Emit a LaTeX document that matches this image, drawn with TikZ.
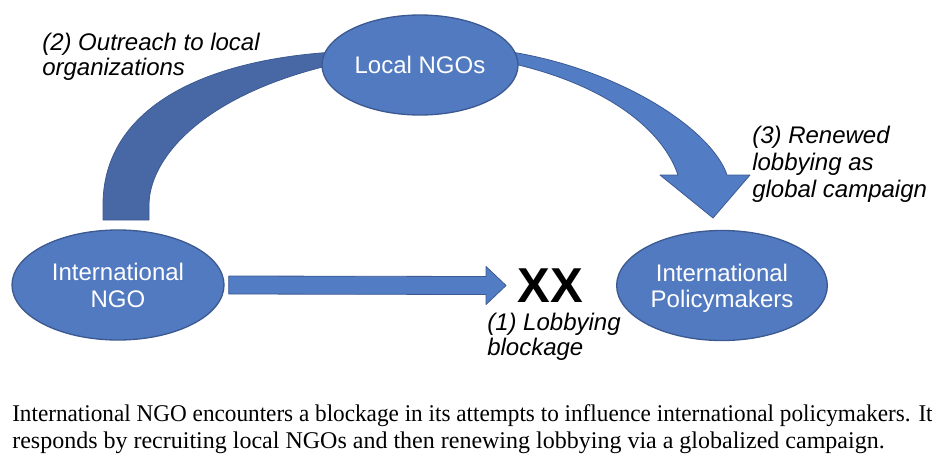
\documentclass[tikz,border=0pt]{standalone}
\usepackage{fontspec}
\setmainfont{Liberation Serif}
\newfontfamily\arial{Liberation Sans}
\usetikzlibrary{calc,shapes.geometric}
\pgfdeclarelayer{background}
\pgfsetlayers{background,main}
\definecolor{ellfill}{RGB}{82,122,192}
\definecolor{ellline}{RGB}{60,90,145}
\definecolor{bandA}{RGB}{72,104,165}
\definecolor{bandB}{RGB}{82,124,196}
\begin{document}
\begin{tikzpicture}[x=0.75pt,y=-0.75pt,
  ell/.style={ellipse, fill=ellfill, draw=ellline, line width=1pt, text=white,
    inner sep=0pt, align=center, text depth=0pt, font=\arial\fontsize{18}{20.25}\selectfont},
  lab/.style={anchor=north west, inner sep=0pt, align=left,
    font=\arial\itshape\fontsize{18}{18.75}\selectfont},
  band/.style={draw=ellline, line width=0.6pt, line join=round}]
\useasboundingbox (0,0) rectangle (932,457);
\clip (0,0) rectangle (932,457);

\node[ell, minimum width=159pt, minimum height=82.5pt] (ingo) at (118,285) {International\\NGO};
\node[ell, minimum width=147pt, minimum height=75pt] (local) at (420,65) {Local NGOs};
\node[ell, minimum width=158pt, minimum height=82.5pt, font=\arial\fontsize{18}{19.5}\selectfont] (ipol) at (722,285.5) {International\\Policymakers};

\node[inner sep=0pt, font=\arial\bfseries\fontsize{36.75}{40}\selectfont] (xx) at (550,285.5) {XX};

% (1) straight arrow
\draw[band, fill=bandB]
  ([shift={(4,-9)}]ingo.east) -- ([shift={(-31,-9)}]xx.west)
  -- ([shift={(-31,-19)}]xx.west) -- ([shift={(-11,0)}]xx.west)
  -- ([shift={(-31,19)}]xx.west) -- ([shift={(-31,9)}]xx.west)
  -- ([shift={(4,9)}]ingo.east) -- cycle;

\begin{pgfonlayer}{background}
  % (2) outreach band
  \draw[band, fill=bandA] (103,220) -- (103,205)
    .. controls (103,110) and (200,60) .. (335,52) -- (335,64)
    .. controls (200,95) and (149,160) .. (149,205) -- (149,220) -- cycle;
  % (3) renewed lobbying arrow
  \draw[band, fill=bandB] (505,51)
    .. controls (620,68) and (712,130) .. (727,175)
    -- (750,175) -- (713,218) -- (660,175) -- (678,175)
    .. controls (660,122) and (592,80) .. (505,62) -- cycle;
\end{pgfonlayer}

\node[lab] (l2) at (42,32.5) {(2) Outreach to local\\organizations};
\node[lab, font=\arial\itshape\fontsize{18}{20.25}\selectfont] (l3) at (752,125.5) {(3) Renewed\\lobbying as\\global campaign};
\node[lab] (l1) at (487,312.5) {(1) Lobbying\\blockage};

\node[anchor=north west, inner sep=0pt, align=left, font=\fontsize{18}{20.25}\selectfont] (cap) at (12,404.6)
  {\scalebox{0.967}[1]{International NGO encounters a blockage in its attempts to influence international policymakers. It}\\responds by recruiting local NGOs and then renewing lobbying via a globalized campaign.};
\end{tikzpicture}
\end{document}
